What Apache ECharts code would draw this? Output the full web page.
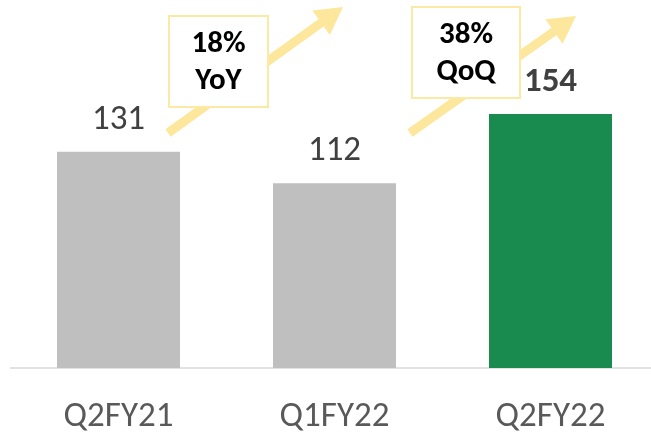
<!DOCTYPE html>
<html>
<head>
<meta charset="utf-8">
<script src="https://cdn.jsdelivr.net/npm/echarts@6/dist/echarts.min.js"></script>
<style>
  html, body { margin: 0; padding: 0; background: #fff; }
  #chart { width: 651px; height: 433px; }
</style>
</head>
<body>
<div id="chart"></div>
<script>
// 数据
const categories = ["Q2FY21", "Q1FY22", "Q2FY22"];
const values = [131, 112, 154];
const barColors = ["#bfbfbf", "#bfbfbf", "#1a8b4f"];
const growthLabels = ["18%\nYoY", "38%\nQoQ"];

const font = "Carlito, Calibri, Lato, sans-serif";
const arrowColor = "#fce79c";

// 箭头: 线 + 三角
function arrow(x1, y1, x2, y2) {
  const dx = x2 - x1, dy = y2 - y1;
  const len = Math.sqrt(dx * dx + dy * dy);
  const ux = dx / len, uy = dy / len;
  const headLen = 27, headHalf = 15;
  const bx = x2 - ux * headLen, by = y2 - uy * headLen;
  return {
    type: "group",
    z: 10,
    children: [
      {
        type: "line",
        shape: { x1: x1, y1: y1, x2: bx + ux * 2, y2: by + uy * 2 },
        style: { stroke: arrowColor, lineWidth: 9 },
      },
      {
        type: "polygon",
        shape: {
          points: [
            [x2, y2],
            [bx - uy * headHalf, by + ux * headHalf],
            [bx + uy * headHalf, by - ux * headHalf],
          ],
        },
        style: { fill: arrowColor },
      },
    ],
  };
}

function box(cx, top, w, h, text) {
  return {
    type: "group",
    z: 20,
    children: [
      {
        type: "rect",
        shape: { x: cx - w / 2, y: top, width: w, height: h },
        style: { fill: "#fff", stroke: "#fde9a6", lineWidth: 2 },
      },
      {
        type: "text",
        x: cx,
        y: top + h / 2 + 1,
        style: {
          text: text,
          font: "bold 31px " + font,
          fill: "#000",
          align: "center",
          verticalAlign: "middle",
          lineHeight: 37,
        },
      },
    ],
  };
}

const chart = echarts.init(document.getElementById("chart"));
chart.setOption({
  animation: false,
  grid: {
    left: 10.5,
    width: 648,
    top: 38,
    bottom: 65,
    containLabel: false,
    outerBoundsMode: "none",
  },
  xAxis: {
    type: "category",
    data: categories,
    axisLine: { lineStyle: { color: "#d9d9d9", width: 1.5 } },
    axisTick: { show: false },
    axisLabel: {
      color: "#595959",
      fontFamily: font,
      fontSize: 35,
      margin: 32,
    },
  },
  yAxis: {
    type: "value",
    min: 0,
    max: 200,
    show: false,
    splitLine: { show: false },
  },
  series: [
    {
      type: "bar",
      barWidth: 123,
      data: values.map((v, i) => ({
        value: v,
        itemStyle: { color: barColors[i] },
        label: {
          fontWeight: i === values.length - 1 ? "bold" : "normal",
        },
      })),
      label: {
        show: true,
        position: "top",
        distance: 14,
        color: "#404040",
        fontFamily: font,
        fontSize: 35,
      },
    },
  ],
  graphic: [
    arrow(168, 133, 343, 7),
    arrow(410, 133, 576, 16),
    box(218.5, 16, 99, 91, growthLabels[0]),
    box(466, 7, 108, 91, growthLabels[1]),
  ],
});
</script>
</body>
</html>
